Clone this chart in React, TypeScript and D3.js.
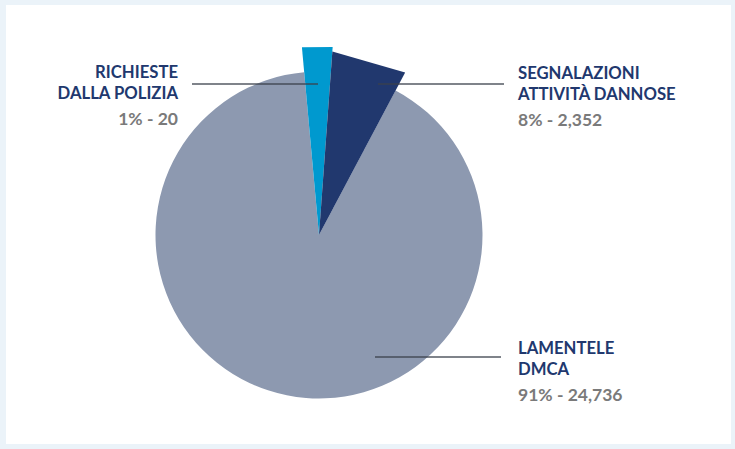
import { arc, curveLinearClosed, lineRadial, pie } from 'd3'

// slice order: police requests, harmful activity reports, DMCA complaints
const labelLines = [
  ['RICHIESTE', 'DALLA POLIZIA'],
  ['SEGNALAZIONI', 'ATTIVITÀ DANNOSE'],
  ['LAMENTELE', 'DMCA'],
]
const percentLabels = ['1%', '8%', '91%']
const counts = [20, 2352, 24736]
// share of the circle each slice takes in the drawing
const drawnShares = [2.6, 6.6, 90.8]

const sliceColors = ['#0099cf', '#21386e', '#8d99b0']

const width = 735
const height = 449
const cx = 319
const cy = 235
const radius = 163.5
// the two small slices are drawn as flat-topped wedges poking out of the disc
const wedgeRadius = [188.5, 184]
const startDeg = -5.2

const labelLayout = [
  { x: 178, y: 78, anchor: 'end', line: [192, 318, 84] },
  { x: 518, y: 79, anchor: 'start', line: [378, 504, 84] },
  { x: 518, y: 354, anchor: 'start', line: [375, 501, 357] },
] as const

const formatCount = (value: number) => value.toLocaleString('en-US')

export default function App() {
  const start = (startDeg * Math.PI) / 180
  const slices = pie<number>()
    .sort(null)
    .startAngle(start)
    .endAngle(start + Math.PI * 2)(drawnShares)

  const bigArc = arc<{ startAngle: number; endAngle: number }>()
    .innerRadius(0)
    .outerRadius(radius)

  const wedge = lineRadial<[number, number]>()
    .angle((d) => d[0])
    .radius((d) => d[1])
    .curve(curveLinearClosed)

  return (
    <>
      <style>{'body{margin:0}'}</style>
      <svg width={width} height={height} style={{ display: 'block' }}>
        <rect width={width} height={height} fill="#ebf3f9" />
        <rect x={6} y={5} width={725} height={439} fill="#ffffff" />
        <g transform={`translate(${cx},${cy})`}>
          <path d={bigArc(slices[2]) ?? ''} fill={sliceColors[2]} />
          {slices.slice(0, 2).map((slice, i) => (
            <path
              key={i}
              d={
                wedge([
                  [slice.startAngle, 0],
                  [slice.startAngle, wedgeRadius[i]],
                  [slice.endAngle, wedgeRadius[i]],
                ]) ?? ''
              }
              fill={sliceColors[i]}
            />
          ))}
        </g>
        {labelLayout.map((layout, i) => (
          <g key={i} fontFamily="Lato, 'Open Sans', sans-serif" fontWeight={700}>
            <line
              x1={layout.line[0]}
              x2={layout.line[1]}
              y1={layout.line[2]}
              y2={layout.line[2]}
              stroke="#3b404b"
              strokeOpacity={0.65}
              strokeWidth={1.8}
            />
            <text
              x={layout.x}
              y={layout.y}
              textAnchor={layout.anchor}
              fontSize={16.7}
              fill="#21386e"
            >
              {labelLines[i].map((t, j) => (
                <tspan key={j} x={layout.x} dy={j === 0 ? 0 : 20.5}>
                  {t}
                </tspan>
              ))}
            </text>
            <text
              x={layout.x}
              y={layout.y + 46.5}
              textAnchor={layout.anchor}
              fontSize={17.5}
              fill="#7a7a7a"
            >
              {`${percentLabels[i]} - ${formatCount(counts[i])}`}
            </text>
          </g>
        ))}
      </svg>
    </>
  )
}
